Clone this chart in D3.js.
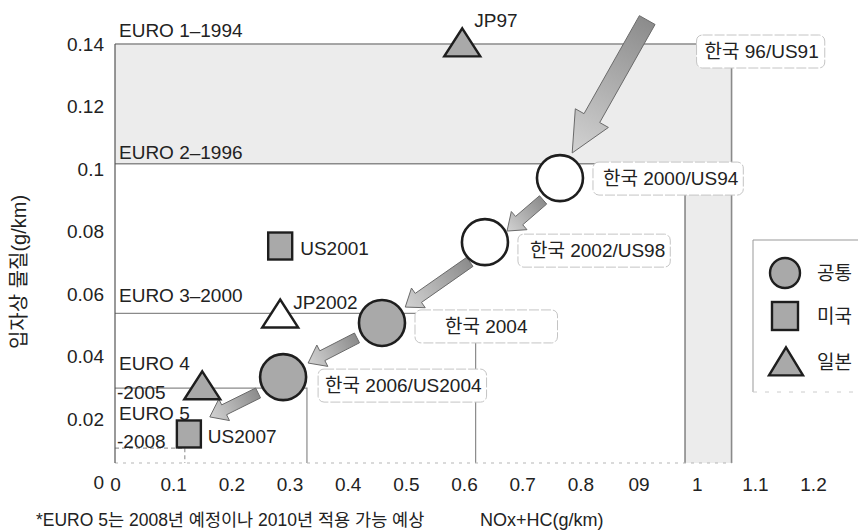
<!DOCTYPE html>
<html>
<head>
<meta charset="utf-8">
<script src="https://cdn.jsdelivr.net/npm/d3@7"></script>
<style>
  html, body { margin: 0; padding: 0; background: #fff; }
  svg { display: block; }
  text { font-family: "Liberation Sans", "Noto Sans CJK KR", sans-serif; fill: #222; }
</style>
</head>
<body>
<svg id="chart" width="858" height="532"></svg>
<script>
// ---------------- DATA ----------------
const xTickValues = [0, 0.1, 0.2, 0.3, 0.4, 0.5, 0.6, 0.7, 0.8, 0.9, 1.0, 1.1, 1.2];
const xTickLabels = ["0", "0.1", "0.2", "0.3", "0.4", "0.5", "0.6", "0.7", "0.8", "09", "1", "1.1", "1.2"];
const yTickValues = [0, 0.02, 0.04, 0.06, 0.08, 0.10, 0.12, 0.14];
const yTickLabels = ["0", "0.02", "0.04", "0.06", "0.08", "0.1", "0.12", "0.14"];

// EURO standards (PM limit, NOx+HC limit)
const euroNames = ["EURO 1", "EURO 2", "EURO 3", "EURO 4", "EURO 5"];
const euroYears = ["1994", "1996", "2000", "2005", "2008"];
const euroPM    = [0.14, 0.10, 0.05, 0.025, 0.005];
const euroNOx   = [1.06, 0.98, 0.62, 0.33, 0.12];

// 공통 (Korea / US common) circles
const commonNames = ["한국 2000/US94", "한국 2002/US98", "한국 2004", "한국 2006/US2004"];
const commonNOx   = [0.765, 0.636, 0.459, 0.289];
const commonPM    = [0.0952, 0.0738, 0.0468, 0.0287];

// 미국 squares
const usNames = ["US2001", "US2007"];
const usNOx   = [0.284, 0.127];
const usPM    = [0.0725, 0.0097];

// 일본 triangles
const jpNames = ["JP97", "JP2002", ""];
const jpNOx   = [0.597, 0.284, 0.150];
const jpPM    = [0.139, 0.0484, 0.0244];

// Korea 96/US91 reference label
const topLabel = "한국 96/US91";

// Progress arrows (tail -> tip)
const arrowFromNOx = [0.915, 0.736, 0.610, 0.416, 0.246];
const arrowFromPM  = [0.148, 0.0879, 0.0672, 0.0418, 0.0234];
const arrowToNOx   = [0.786, 0.674, 0.499, 0.332, 0.163];
const arrowToPM    = [0.1036, 0.0775, 0.0521, 0.0334, 0.0154];

const legendLabels = ["공통", "미국", "일본"];

const yTitle = "입자상 물질(g/km)";
const xTitle = "NOx+HC(g/km)";
const footnote = "*EURO 5는 2008년 예정이나 2010년 적용 가능 예상";

// ---------------- CHART ----------------
const svg = d3.select("#chart");
const W = 858, H = 532;
svg.append("rect").attr("width", W).attr("height", H).attr("fill", "#fff");

const x = d3.scaleLinear().domain([0, 1.2]).range([115, 813]);
const y = d3.scaleLinear().domain([0, 0.14]).range([463, 44]);
// tick labels in the original sit on a slightly different vertical spacing
const yLab = d3.scaleLinear().domain([0, 0.14]).range([482, 44]);

const FS = 19;
const gray = "#a9a9a9";
const lineC = "#8a8a8a";

// shaded region between EURO 1 and EURO 2
const e1x = x(euroNOx[0]), e1y = y(euroPM[0]), e2x = x(euroNOx[1]), e2y = y(euroPM[1]), y0 = y(0);
svg.append("path")
  .attr("d", `M${x(0)},${e1y}H${e1x}V${y0}H${e2x}V${e2y}H${x(0)}Z`)
  .attr("fill", "#ececec");

// EURO boxes
const euroIdx = d3.range(euroNames.length);
svg.append("g").selectAll("path").data(euroIdx).join("path")
  .attr("d", i => `M${x(0)},${y(euroPM[i])}H${x(euroNOx[i])}V${y0}`)
  .attr("fill", "none")
  .attr("stroke", i => i === 4 ? "#999" : lineC)
  .attr("stroke-width", i => i < 2 ? 1.6 : 1.2)
  .attr("stroke-dasharray", i => i === 4 ? "4,3" : null);

// baseline (dotted) and y axis line
svg.append("line").attr("x1", x(0)).attr("x2", e1x).attr("y1", y0).attr("y2", y0)
  .attr("stroke", "#b5b5b5").attr("stroke-width", 1).attr("stroke-dasharray", "3,5");
svg.append("line").attr("x1", x(0)).attr("x2", x(0)).attr("y1", y(0.14)).attr("y2", y0)
  .attr("stroke", "#555").attr("stroke-width", 1.2);

// legend box
svg.append("path").attr("d", "M753,392V240H858").attr("fill", "none").attr("stroke", "#999").attr("stroke-width", 1);
svg.append("line").attr("x1", 753).attr("x2", 858).attr("y1", 392).attr("y2", 392)
  .attr("stroke", "#ccc").attr("stroke-dasharray", "4,8");

// axes
const yAxis = d3.axisLeft(yLab).tickValues(yTickValues).tickSize(0).tickPadding(11)
  .tickFormat((d, i) => yTickLabels[i]);
const gy = svg.append("g").attr("transform", `translate(${x(0)},0)`).call(yAxis);
gy.select(".domain").remove();
gy.selectAll("text").attr("font-size", FS).attr("fill", "#222")
  .style("font-family", "'Liberation Sans', sans-serif");

const xAxis = d3.axisBottom(x).tickValues(xTickValues).tickSize(0).tickPadding(8)
  .tickFormat((d, i) => xTickLabels[i]);
const gx = svg.append("g").attr("transform", `translate(0,470)`).call(xAxis);
gx.select(".domain").remove();
gx.selectAll("text").attr("font-size", FS).attr("fill", "#222")
  .style("font-family", "'Liberation Sans', sans-serif");

// EURO labels
const euroLabelDy = [[-7], [-5], [-11], [-18, 11], [-28, 0]];
euroIdx.forEach(i => {
  const base = y(euroPM[i]);
  const lines = i >= 3 ? [euroNames[i], "-" + euroYears[i]] : [euroNames[i] + "–" + euroYears[i]];
  lines.forEach((t, k) => {
    svg.append("text").attr("x", k === 1 ? 117 : 119).attr("y", base + euroLabelDy[i][k])
      .attr("font-size", FS).text(t);
  });
});

// label boxes
function labelBox(txt, tx, cy, padL, padR, centered) {
  const g = svg.append("g");
  const r = g.append("rect");
  const t = g.append("text").attr("font-size", FS).attr("y", cy + 7).text(txt);
  const bw = t.node().getComputedTextLength();
  let left;
  if (centered) { left = tx; t.attr("x", tx + padL); }
  else { left = tx - padL; t.attr("x", tx); }
  r.attr("x", left).attr("y", cy - 16).attr("width", bw + padL + padR).attr("height", 33)
    .attr("rx", 6).attr("fill", "#fff").attr("stroke", "#c4c4c4").attr("stroke-width", 1)
    .attr("stroke-dasharray", "10,2");
}
labelBox(topLabel, e1x - 27, e1y + 7, 8, 6, false);
const boxLayout = [
  { tx: 43, cy: 0, pl: 10, pr: 5, c: false },
  { tx: 45, cy: 8, pl: 12, pr: 5, c: false },
  { tx: 33, cy: 3, pl: 30, pr: 30, c: true },
  { tx: 42, cy: 8, pl: 7, pr: 5, c: false }
];
commonNames.forEach((n, i) => {
  const L = boxLayout[i];
  labelBox(n, x(commonNOx[i]) + L.tx, y(commonPM[i]) + L.cy, L.pl, L.pr, L.c);
});

// gradient + arrows
const defs = svg.append("defs");
function arrowPath(x1, y1, x2, y2, s, h, L) {
  const dx = x2 - x1, dy = y2 - y1, len = Math.hypot(dx, dy);
  const ux = dx / len, uy = dy / len, nx = -uy, ny = ux;
  const bx = x2 - ux * L, by = y2 - uy * L;
  const p = [
    [x1 + nx * s, y1 + ny * s], [bx + nx * s, by + ny * s], [bx + nx * h, by + ny * h],
    [x2, y2], [bx - nx * h, by - ny * h], [bx - nx * s, by - ny * s], [x1 - nx * s, y1 - ny * s]
  ];
  return "M" + p.map(q => q.join(",")).join("L") + "Z";
}
arrowFromNOx.forEach((v, i) => {
  const x1 = x(v), y1 = y(arrowFromPM[i]), x2 = x(arrowToNOx[i]), y2 = y(arrowToPM[i]);
  const gid = "ag" + i;
  const lg = defs.append("linearGradient").attr("id", gid).attr("gradientUnits", "userSpaceOnUse")
    .attr("x1", x1).attr("y1", y1).attr("x2", x2).attr("y2", y2);
  lg.append("stop").attr("offset", "0%").attr("stop-color", "#8c8c8c");
  lg.append("stop").attr("offset", "100%").attr("stop-color", "#d2d2d2");
  const big = i === 0;
  svg.append("path")
    .attr("d", arrowPath(x1, y1, x2, y2, big ? 9 : 5.5, big ? 19 : 12, big ? 40 : 16))
    .attr("fill", `url(#${gid})`).attr("stroke", "#6a6a6a").attr("stroke-width", 1);
});

// triangle helper
function tri(cx, cy, w, h) {
  return `M${cx},${cy - 2 * h / 3}L${cx + w / 2},${cy + h / 3}L${cx - w / 2},${cy + h / 3}Z`;
}

// markers: circles
svg.append("g").selectAll("circle").data(commonNames.map((n, i) => i)).join("circle")
  .attr("cx", i => x(commonNOx[i])).attr("cy", i => y(commonPM[i])).attr("r", 23)
  .attr("fill", i => i >= 2 ? gray : "#fff").attr("stroke", "#1e1e1e").attr("stroke-width", 2.6);

// squares
svg.append("g").selectAll("rect").data(usNames.map((n, i) => i)).join("rect")
  .attr("x", i => x(usNOx[i]) - 12).attr("y", i => y(usPM[i]) - 13.5)
  .attr("width", 24).attr("height", 27)
  .attr("fill", gray).attr("stroke", "#1e1e1e").attr("stroke-width", 2.4);
const usDx = [20, 19], usDy = [9, 9];
usNames.forEach((n, i) => {
  svg.append("text").attr("x", x(usNOx[i]) + usDx[i]).attr("y", y(usPM[i]) + usDy[i])
    .attr("font-size", FS).text(n);
});

// triangles
svg.append("g").selectAll("path").data(jpNames.map((n, i) => i)).join("path")
  .attr("d", i => tri(x(jpNOx[i]), y(jpPM[i]), 36, 28))
  .attr("fill", i => i === 1 ? "#fff" : gray).attr("stroke", "#1e1e1e").attr("stroke-width", 2.4)
  .attr("stroke-linejoin", "miter");
const jpDx = [12, 13], jpDy = [-20, -9];
jpNames.forEach((n, i) => {
  if (!n) return;
  svg.append("text").attr("x", x(jpNOx[i]) + jpDx[i]).attr("y", y(jpPM[i]) + jpDy[i])
    .attr("font-size", FS).text(n);
});

// legend
const lg = svg.append("g");
lg.append("circle").attr("cx", 785).attr("cy", 273).attr("r", 15)
  .attr("fill", gray).attr("stroke", "#1e1e1e").attr("stroke-width", 2.4);
lg.append("rect").attr("x", 772).attr("y", 302).attr("width", 26).attr("height", 28)
  .attr("fill", gray).attr("stroke", "#1e1e1e").attr("stroke-width", 2.4);
lg.append("path").attr("d", tri(786, 366, 34, 28))
  .attr("fill", gray).attr("stroke", "#1e1e1e").attr("stroke-width", 2.4);
const legY = [273, 316, 362];
legendLabels.forEach((t, i) => {
  lg.append("text").attr("x", 817).attr("y", legY[i] + 7).attr("font-size", FS).text(t);
});

// titles
svg.append("text").attr("transform", "translate(26,272) rotate(-90)")
  .attr("text-anchor", "middle").attr("font-size", 20).text(yTitle);
svg.append("text").attr("x", 480).attr("y", 526).attr("font-size", 18).text(xTitle);
svg.append("text").attr("x", 36).attr("y", 526).attr("font-size", 17.5).text(footnote);
</script>
</body>
</html>
